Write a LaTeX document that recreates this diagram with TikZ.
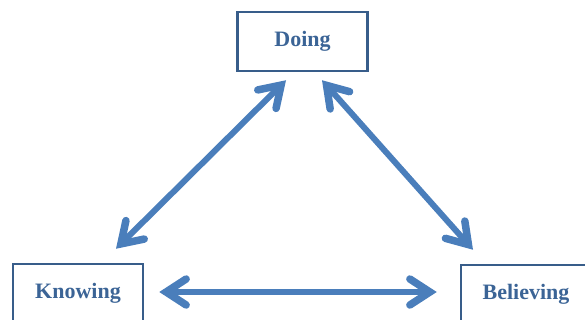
\documentclass[tikz,border=0pt]{standalone}
\usepackage{fontspec}
\setmainfont{Liberation Serif}
\usetikzlibrary{arrows.meta}
\usetikzlibrary{calc}
\definecolor{arrowblue}{HTML}{4A7EBB}
\definecolor{boxblue}{HTML}{385D8A}
\definecolor{textblue}{HTML}{3B6496}

\begin{document}
\begin{tikzpicture}[x=1pt,y=-1pt,
    box/.style={draw=boxblue, line width=2.5pt, minimum width=130pt, minimum height=59pt,
        inner sep=0pt, text=textblue, font=\fontsize{22}{24}\selectfont\bfseries},
    bigbarb/.tip={Straight Barb[length=20pt,width=26pt,line width=7.5pt,line cap=round]},
    twoway/.style={draw=arrowblue, line width=6pt, bigbarb-bigbarb}]
            \useasboundingbox (0,0) rectangle (585,320);
            \node[box] (d) at (302.5,41.5) {Doing};
            \node[box] (k) at (78,293.5) {Knowing};
            \node[box] (b) at (526,294.5) {Believing\hspace{12pt}};
            \coordinate (kd) at ($(k.north)+(38,-14)$);
            \coordinate (dk) at ($(d.south)+(-16.5,8)$);
            \coordinate (db) at ($(d.south)+(19.5,8)$);
            \coordinate (bd) at ($(b.north)+(-53,-14)$);
            \coordinate (kb) at ($(k.east)+(15,-1.5)$);
            \coordinate (bk) at ($(b.west)+(-23,-2.5)$);
            \draw[twoway] (kd) -- (dk);
            \draw[twoway] (db) -- (bd);
            \draw[twoway] (kb) -- (bk);
        \end{tikzpicture}
\end{document}
